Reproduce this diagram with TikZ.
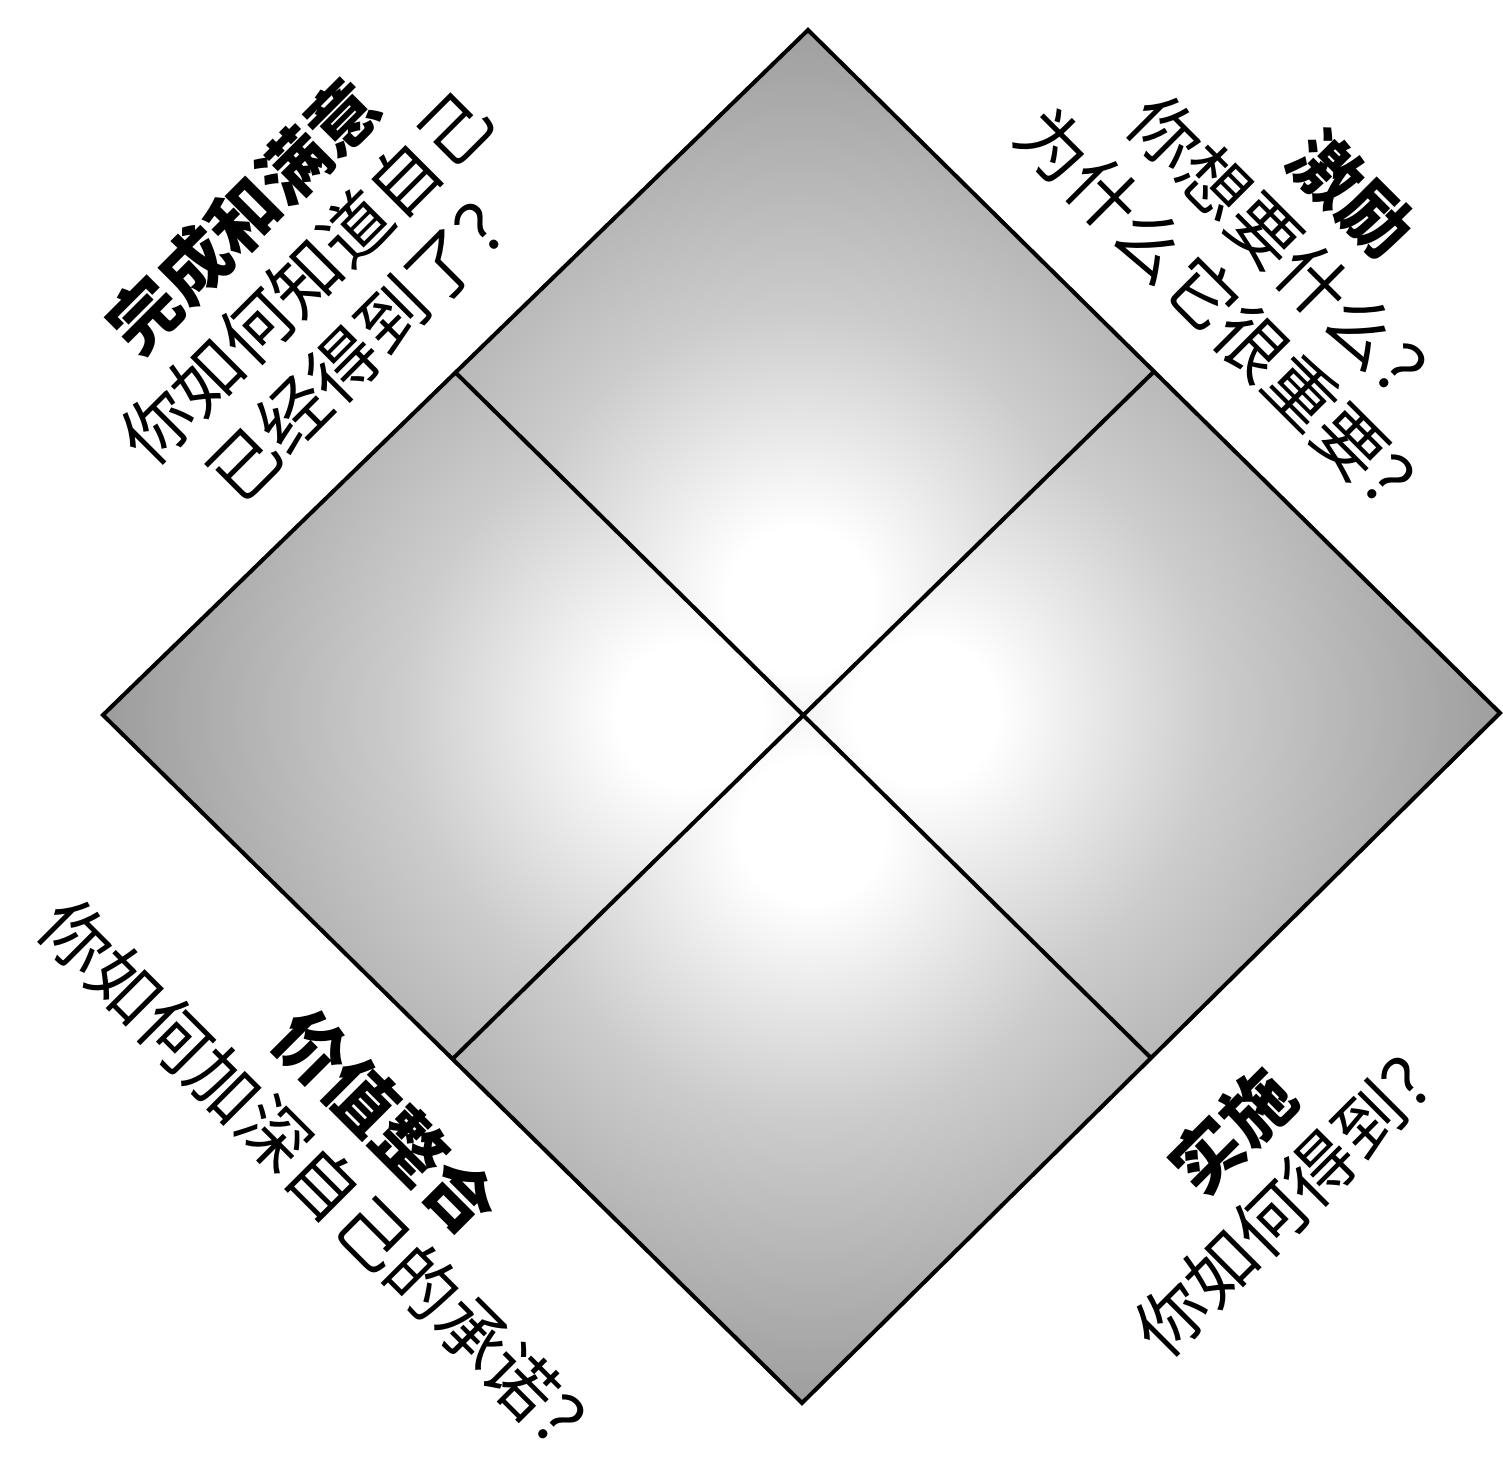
\documentclass[tikz,border=0pt]{standalone}
\usepackage{fontspec}
\newfontfamily\cjk{Noto Sans CJK SC}
\usetikzlibrary{calc}
\pgfdeclareradialshading{qshade}{\pgfpoint{0bp}{0bp}}{color(0bp)=(white); color(3bp)=(white); color(12bp)=(black!20); color(24bp)=(black!38); color(40bp)=(black!50); color(50bp)=(black!54)}
\tikzset{
  edge/.style={line width=4pt, black},
  label/.style={font=\cjk\fontsize{70}{88}\selectfont, align=center, inner sep=0pt},
}
\newcommand{\ttl}[1]{{\bfseries #1}}
\begin{document}
\begin{tikzpicture}[x=1pt,y=-1pt]
\useasboundingbox (0,0) rectangle (1503,1461);
\fill[white] (0,0) rectangle (1503,1461);
\coordinate (T) at (808,30);
\coordinate (R) at (1500,713);
\coordinate (B) at (802,1403);
\coordinate (L) at (103,715);
\coordinate (TL) at ($(T)!0.5!(L)$);
\coordinate (TR) at ($(T)!0.5!(R)$);
\coordinate (BR) at ($(B)!0.5!(R)$);
\coordinate (BL) at ($(B)!0.5!(L)$);
\coordinate (C) at (intersection of TL--BR and TR--BL);
% quadrant shading
\foreach \a/\b/\c/\d/\px/\py in {T/TR/C/TL/800/600, TR/R/BR/C/925/712, C/BR/B/BL/812/830, TL/C/BL/L/690/715}{
  \begin{scope}
    \clip (\a) -- (\b) -- (\c) -- (\d) -- cycle;
    \fill[black!54] (\a) -- (\b) -- (\c) -- (\d) -- cycle;
    \shade[shading=qshade] (\px,\py) circle (600);
  \end{scope}
}
\draw[edge] (T) -- (R) -- (B) -- (L) -- cycle;
\draw[edge] (TL) -- (BR);
\draw[edge] (TR) -- (BL);
% labels
\node[label, rotate=45] (ul) at (305,277) {\ttl{完成和满意}\\你如何知道自己\\已经得到了？};
\node[label, rotate=-45] (ur) at (1290,256) {\ttl{激励}\\你想要什么？\\为什么它很重要？};
\node[label, rotate=45] (lr) at (1263,1162) {\ttl{实施}\\你如何得到？};
\node[label, rotate=-45] (ll) at (356,1152) {\ttl{价值整合}\\你如何加深自己的承诺？};
\end{tikzpicture}
\end{document}
